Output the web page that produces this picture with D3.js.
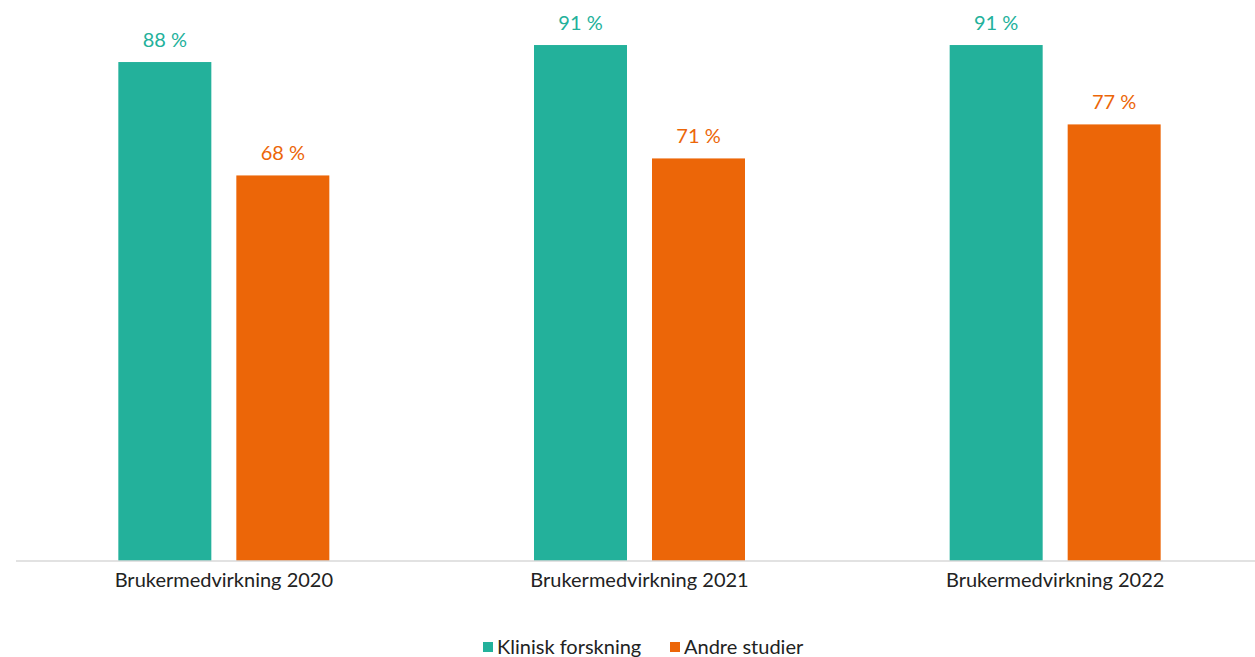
<!DOCTYPE html>
<html><head><meta charset="utf-8">
<script src="https://cdn.jsdelivr.net/npm/d3@7"></script>
<style>body{margin:0;background:#fff}svg{display:block}text{font-family:Lato,"Open Sans",sans-serif}</style>
</head><body>
<svg id="c" width="1255" height="657"></svg>
<script>
const categories = ["Brukermedvirkning 2020","Brukermedvirkning 2021","Brukermedvirkning 2022"];
const seriesNames = ["Klinisk forskning","Andre studier"];
const klinisk = [88, 91, 91];
const andre = [68, 71, 77];
const colors = ["#23B19B","#EC6608"];
const values = [klinisk, andre];

const svg = d3.select("#c");
const baseY = 561;
const x = d3.scaleBand().domain(categories).range([16, 1263]).paddingInner(0).paddingOuter(0);
const y = d3.scaleLinear().domain([0, 100]).range([baseY, -6]);
const barW = 93, gap = 25;

categories.forEach((cat, i) => {
  const cx = x(cat) + x.bandwidth() / 2;
  values.forEach((vals, s) => {
    const bx = s === 0 ? cx - gap/2 - barW : cx + gap/2;
    const v = vals[i];
    svg.append("rect").attr("x", bx).attr("y", y(v)).attr("width", barW).attr("height", baseY - y(v)).attr("fill", colors[s]);
    svg.append("text").attr("x", bx + barW/2).attr("y", y(v) - 15).attr("text-anchor", "middle")
      .attr("font-size", 20).attr("fill", colors[s]).text(v + " %");
  });
});

const axis = svg.append("g").attr("transform", `translate(0,${baseY})`).call(d3.axisBottom(x).tickSize(0).tickPadding(12));
axis.select(".domain").attr("stroke", "#d9d9d9").attr("stroke-width", 1.5).attr("d", "M16,0H1255");
axis.selectAll("text").attr("font-size", 20).attr("fill", "#222").style("font-family", "Lato, 'Open Sans', sans-serif");

// legend
const leg = [{x: 483, tx: 497}, {x: 670, tx: 684}];
seriesNames.forEach((n, s) => {
  svg.append("rect").attr("x", leg[s].x).attr("y", 642).attr("width", 10).attr("height", 10).attr("fill", colors[s]);
  svg.append("text").attr("x", leg[s].tx).attr("y", 654).attr("font-size", 20).attr("fill", "#222").text(n);
});
</script>
</body></html>
